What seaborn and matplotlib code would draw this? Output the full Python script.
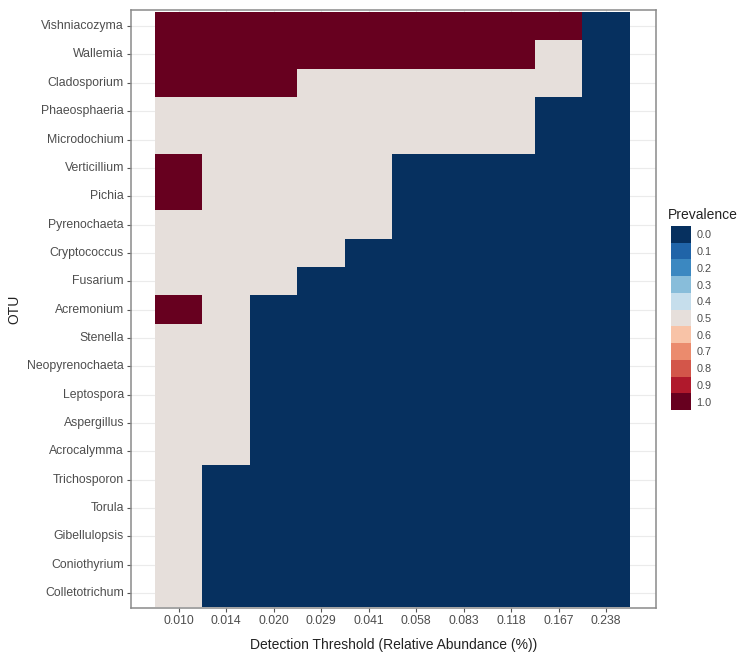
import numpy as np
import pandas as pd
import matplotlib
matplotlib.use("Agg")
import matplotlib.pyplot as plt
from matplotlib.colors import ListedColormap
import seaborn as sns

# rows (top to bottom) and detection thresholds
otus = ["Vishniacozyma", "Wallemia", "Cladosporium", "Phaeosphaeria", "Microdochium",
        "Verticillium", "Pichia", "Pyrenochaeta", "Cryptococcus", "Fusarium",
        "Acremonium", "Stenella", "Neopyrenochaeta", "Leptospora", "Aspergillus",
        "Acrocalymma", "Trichosporon", "Torula", "Gibellulopsis", "Coniothyrium",
        "Colletotrichum"]
thresholds = ["0.010", "0.014", "0.020", "0.029", "0.041", "0.058", "0.083", "0.118", "0.167", "0.238"]

prevalence = [
    [1.0, 1.0, 1.0, 1.0, 1.0, 1.0, 1.0, 1.0, 1.0, 0.0],
    [1.0, 1.0, 1.0, 1.0, 1.0, 1.0, 1.0, 1.0, 0.5, 0.0],
    [1.0, 1.0, 1.0, 0.5, 0.5, 0.5, 0.5, 0.5, 0.5, 0.0],
    [0.5, 0.5, 0.5, 0.5, 0.5, 0.5, 0.5, 0.5, 0.0, 0.0],
    [0.5, 0.5, 0.5, 0.5, 0.5, 0.5, 0.5, 0.5, 0.0, 0.0],
    [1.0, 0.5, 0.5, 0.5, 0.5, 0.0, 0.0, 0.0, 0.0, 0.0],
    [1.0, 0.5, 0.5, 0.5, 0.5, 0.0, 0.0, 0.0, 0.0, 0.0],
    [0.5, 0.5, 0.5, 0.5, 0.5, 0.0, 0.0, 0.0, 0.0, 0.0],
    [0.5, 0.5, 0.5, 0.5, 0.0, 0.0, 0.0, 0.0, 0.0, 0.0],
    [0.5, 0.5, 0.5, 0.0, 0.0, 0.0, 0.0, 0.0, 0.0, 0.0],
    [1.0, 0.5, 0.0, 0.0, 0.0, 0.0, 0.0, 0.0, 0.0, 0.0],
    [0.5, 0.5, 0.0, 0.0, 0.0, 0.0, 0.0, 0.0, 0.0, 0.0],
    [0.5, 0.5, 0.0, 0.0, 0.0, 0.0, 0.0, 0.0, 0.0, 0.0],
    [0.5, 0.5, 0.0, 0.0, 0.0, 0.0, 0.0, 0.0, 0.0, 0.0],
    [0.5, 0.5, 0.0, 0.0, 0.0, 0.0, 0.0, 0.0, 0.0, 0.0],
    [0.5, 0.5, 0.0, 0.0, 0.0, 0.0, 0.0, 0.0, 0.0, 0.0],
    [0.5, 0.0, 0.0, 0.0, 0.0, 0.0, 0.0, 0.0, 0.0, 0.0],
    [0.5, 0.0, 0.0, 0.0, 0.0, 0.0, 0.0, 0.0, 0.0, 0.0],
    [0.5, 0.0, 0.0, 0.0, 0.0, 0.0, 0.0, 0.0, 0.0, 0.0],
    [0.5, 0.0, 0.0, 0.0, 0.0, 0.0, 0.0, 0.0, 0.0, 0.0],
    [0.5, 0.0, 0.0, 0.0, 0.0, 0.0, 0.0, 0.0, 0.0, 0.0],
]

legend_levels = [0.0, 0.1, 0.2, 0.3, 0.4, 0.5, 0.6, 0.7, 0.8, 0.9, 1.0]
legend_colors = ["#06305F", "#2064A8", "#3B88C1", "#88BDDA", "#C6DEEC", "#E6DFDB",
                 "#F8C3A7", "#EB8B6D", "#D3564A", "#B0192C", "#67001F"]

sns.set_style("white")
plt.rcParams["font.family"] = ["Liberation Sans", "DejaVu Sans"]

cmap = ListedColormap(legend_colors)
df = pd.DataFrame(prevalence, index=otus, columns=thresholds)

fig = plt.figure(figsize=(7.41, 6.57), dpi=100)
ax = fig.add_axes([131 / 741, 1 - 608 / 657, 525 / 741, 598 / 657])

sns.heatmap(df, ax=ax, cmap=cmap, vmin=-0.05, vmax=1.05, cbar=False,
            xticklabels=True, yticklabels=True)

ax.set_xlim(-0.5, 10.55)
ax.set_ylim(21.03, -0.07)
ax.set_axisbelow(True)
ax.grid(True, color="#EBEBEB", linewidth=0.8)
for s in ax.spines.values():
    s.set_visible(True)
    s.set_color("#8A8A8A")
    s.set_linewidth(1.1)

ax.tick_params(axis="both", which="both", length=3, width=0.8, color="#555555",
               labelsize=8.8, labelcolor="#4D4D4D", pad=2, bottom=True, left=True)
plt.setp(ax.get_xticklabels(), rotation=0)
plt.setp(ax.get_yticklabels(), rotation=0)

ax.set_xlabel("Detection Threshold (Relative Abundance (%))", fontsize=10, color="#222222", labelpad=8)
ax.set_ylabel("OTU", fontsize=10, color="#222222", labelpad=4)

# legend drawn as a one-column heatmap
cax = fig.add_axes([671 / 741, 1 - 410 / 657, 20 / 741, 184 / 657])
leg_df = pd.DataFrame({"v": legend_levels}, index=[f"{v:.1f}" for v in legend_levels])
sns.heatmap(leg_df, ax=cax, cmap=cmap, vmin=-0.05, vmax=1.05, cbar=False,
            xticklabels=False, yticklabels=True)
cax.yaxis.tick_right()
cax.tick_params(axis="y", length=0, labelsize=7.8, labelcolor="#4D4D4D", pad=4)
plt.setp(cax.get_yticklabels(), rotation=0)
cax.set_ylabel("")
fig.text(668 / 741, 1 - 215 / 657, "Prevalence", fontsize=10, color="#222222",
         ha="left", va="center")

fig.savefig("out.png", dpi=100)
